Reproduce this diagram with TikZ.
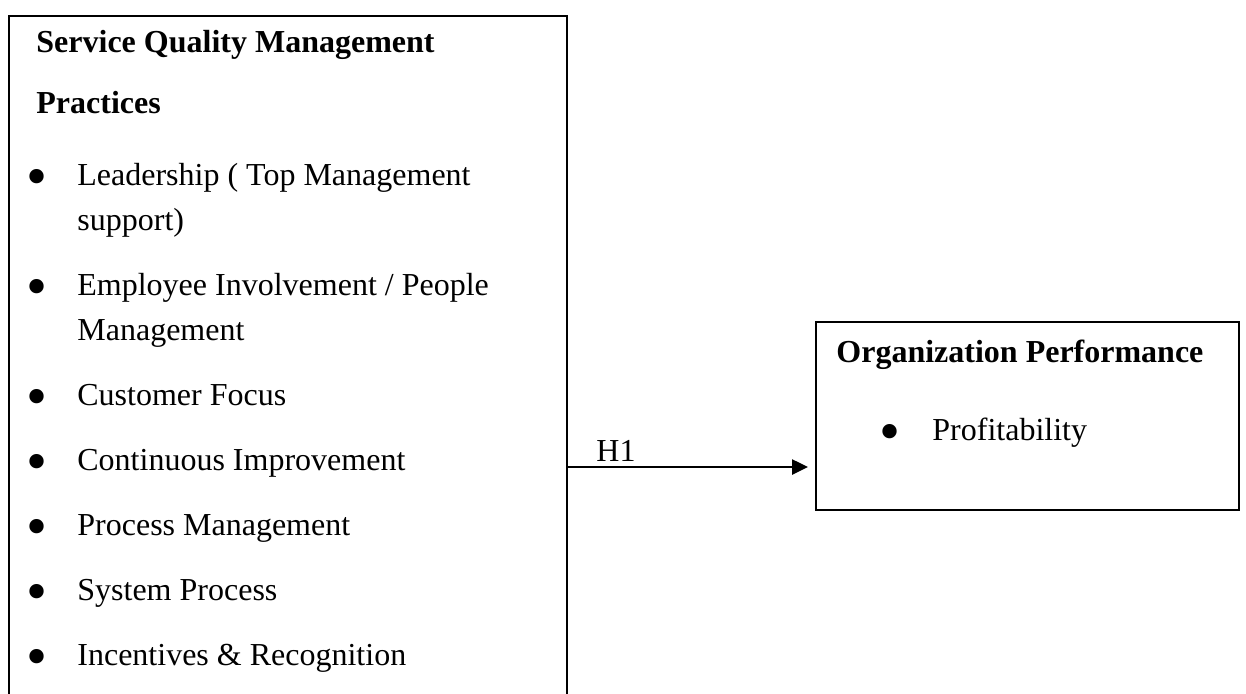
\documentclass[tikz,border=0pt]{standalone}
\usepackage{fontspec}
\setmainfont{Liberation Serif}
\usetikzlibrary{arrows.meta}

\begin{document}
\begin{tikzpicture}[x=0.5pt,y=-0.5pt,
  txt/.style={anchor=base west,inner sep=0pt,font=\fontsize{16}{19}\selectfont},
  hd/.style={txt,font=\fontsize{16}{19}\selectfont\bfseries},
  dot/.style={anchor=base,inner sep=0pt,yshift=-5.5pt,font=\fontsize{30}{30}\selectfont},
  box/.style={draw,line width=1pt,anchor=north west,inner sep=0pt}]
\useasboundingbox (0,0) rectangle (1246,693);
\clip (0,0) rectangle (1246,693);

% the two boxes
\node[box,minimum width=279pt,minimum height=380pt] (left) at (8,15) {};
\node[box,minimum width=211.5pt,minimum height=94pt] (right) at (815,321) {};

% left box: heading and list
\node[hd] (t1) at (36,52) {Service Quality Management};
\node[hd] (t2) at (36,113) {Practices};
\foreach \y [count=\i] in {185,295,405,470,535,600,665}
  \node[dot] (b\i) at (37,\y) {\textbullet};
\foreach \y/\t [count=\i] in {185/{Leadership ( Top Management},230/{support)},
    295/{Employee Involvement / People},340/{Management},405/{Customer Focus},
    470/{Continuous Improvement},535/{Process Management},600/{System Process},
    665/{Incentives \& Recognition}}
  \node[txt] (l\i) at (77,\y) {\t};

% right box
\node[hd] (o1) at (836,362) {Organization Performance};
\node[dot] (ob) at (890,440) {\textbullet};
\node[txt] (o2) at (932,440) {Profitability};

% hypothesis arrow
\coordinate (h) at (0,467);
\draw[line width=1.3pt,-{Triangle[length=8pt,width=7.5pt]},shorten >=3.5pt]
  (left.east |- h) -- (right.west |- h);
\node[txt] (h1) at (596,461) {H1};
\end{tikzpicture}
\end{document}
